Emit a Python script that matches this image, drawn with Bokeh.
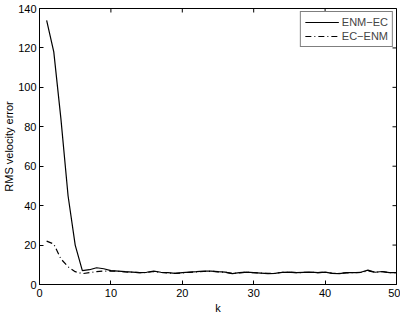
import math
from bokeh.plotting import figure
from bokeh.models import FixedTicker, Legend, LegendItem, Range1d
from bokeh.embed import file_html
from bokeh.resources import INLINE

k = list(range(1, 51))
enm_ec = [134, 118, 84, 45, 20, 7, 7.5, 8.5, 8.0, 7.0,
          6.8, 6.5, 6.3, 6.0, 6.2, 6.8, 6.2, 6.0, 5.6, 6.0,
          6.3, 6.5, 6.8, 6.8, 6.5, 6.3, 5.5, 6.0, 6.3, 6.0,
          5.8, 5.5, 5.6, 6.2, 6.3, 6.0, 6.2, 6.3, 6.0, 6.3,
          5.6, 5.5, 6.0, 6.0, 6.2, 7.3, 6.2, 6.6, 6.0, 6.0]
ec_enm = [22, 20.5, 13, 9, 6.5, 5.5, 6.0, 6.5, 6.8, 6.8,
          6.7, 6.4, 6.2, 6.0, 6.1, 6.6, 6.1, 5.9, 5.6, 5.9,
          6.2, 6.4, 6.6, 6.7, 6.4, 6.2, 5.6, 5.9, 6.2, 6.0,
          5.8, 5.6, 5.7, 6.1, 6.2, 6.0, 6.1, 6.2, 6.0, 6.2,
          5.7, 5.6, 5.9, 6.0, 6.1, 7.0, 6.2, 6.5, 6.0, 6.0]
x_ticks = [0, 10, 20, 30, 40, 50]
y_ticks = [0, 20, 40, 60, 80, 100, 120, 140]
x_min, x_max = 0, 50
y_min, y_max = 0, 140

FONT = "Liberation Sans"

p = figure(width=400, height=316, output_backend="svg", toolbar_location=None,
           x_range=Range1d(x_min, x_max), y_range=Range1d(y_min, y_max),
           min_border_left=36, min_border_right=4, min_border_top=8, min_border_bottom=31)
p.grid.visible = False
p.outline_line_color = "black"
p.outline_line_width = 1
p.background_fill_color = "white"
p.border_fill_color = "white"

def style_axis(ax, ticks):
    ax.ticker = FixedTicker(ticks=ticks)
    ax.major_tick_in = 4
    ax.major_tick_out = 0
    ax.minor_tick_line_color = None
    ax.axis_line_color = "black"
    ax.major_tick_line_color = "black"
    ax.major_label_text_font = FONT
    ax.major_label_text_font_size = "11px"
    ax.major_label_text_color = "black"
    ax.axis_label_text_font = FONT
    ax.axis_label_text_font_size = "11px"
    ax.axis_label_text_font_style = "normal"
    ax.axis_label_text_color = "black"

style_axis(p.xaxis[0], x_ticks)
style_axis(p.yaxis[0], y_ticks)
p.xaxis[0].axis_label = "k"
p.xaxis[0].major_label_standoff = 4
p.xaxis[0].axis_label_standoff = 2
p.yaxis[0].axis_label = "RMS velocity error"
p.yaxis[0].major_label_standoff = 3
p.yaxis[0].axis_label_standoff = 0

# inward ticks on the top and right edges (half of each dash is clipped by the frame)
p.scatter(x_ticks, [y_max] * len(x_ticks), marker="dash", size=8, angle=math.pi / 2,
          line_color="black", line_width=1)
p.scatter([x_max] * len(y_ticks), y_ticks, marker="dash", size=8,
          line_color="black", line_width=1)

r1 = p.line(k, enm_ec, line_color="black", line_width=1.2)
r2 = p.line(k, ec_enm, line_color="black", line_width=1.2, line_dash="6 3 1 3")

legend = Legend(items=[LegendItem(label="ENM\u2212EC", renderers=[r1]),
                       LegendItem(label="EC\u2212ENM", renderers=[r2])],
                location="top_right")
legend.border_line_color = "black"
legend.border_line_width = 1
legend.background_fill_alpha = 1
legend.label_text_font = FONT
legend.label_text_font_size = "11px"
legend.glyph_width = 34
legend.glyph_height = 12
legend.label_height = 12
legend.spacing = 2
legend.padding = 4
legend.margin = 3
legend.label_standoff = 3
p.add_layout(legend, "center")

open("out.html", "w").write(file_html(p, INLINE))
